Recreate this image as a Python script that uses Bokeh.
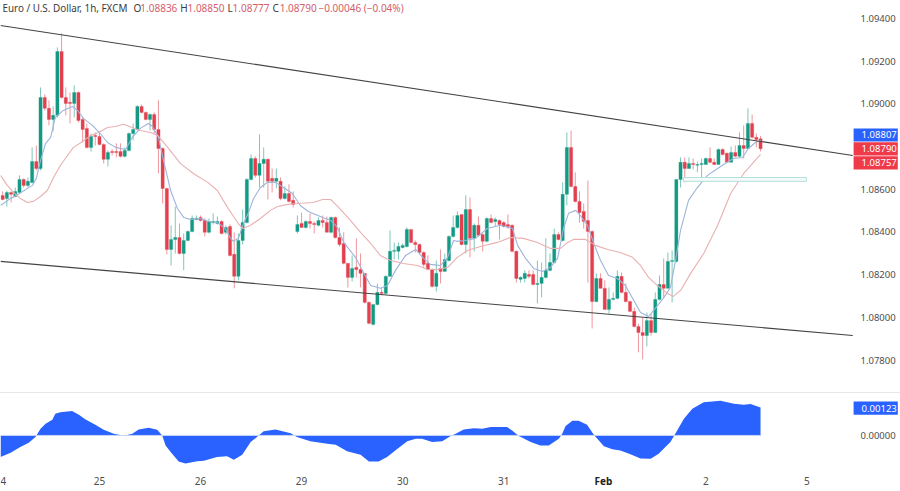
from bokeh.plotting import figure
from bokeh.models import (ColumnDataSource, Range1d, FixedTicker, PrintfTickFormatter, Label, Spacer, LinearAxis)
from bokeh.core.properties import value
from bokeh.layouts import column
from bokeh.embed import file_html
from bokeh.resources import INLINE

FONT = "Noto Sans"
first_bar = -23
opens = [
1.08571,1.08557,1.08585,1.08566,1.08585,1.08646,1.08618,1.08632,1.08730,1.08697,
1.09030,1.08979,1.08927,1.08946,1.09245,1.09030,1.09007,1.09002,1.09053,1.08927,
1.08885,1.08796,1.08852,
1.08847,1.08810,1.08740,1.08777,1.08777,1.08777,1.08754,1.08782,1.08861,1.08880,
1.08988,1.08960,1.08927,1.08950,1.08880,1.08791,1.08604,1.08318,1.08365,1.08374,
1.08299,1.08360,1.08402,1.08458,1.08468,1.08454,1.08398,1.08444,1.08440,1.08449,
1.08398,1.08426,1.08295,1.08192,1.08360,1.08444,1.08646,1.08744,1.08665,1.08721,
1.08740,1.08651,1.08637,1.08637,1.08557,1.08580,1.08548,
1.08402,1.08440,1.08421,1.08449,1.08440,1.08431,1.08454,1.08444,1.08398,1.08468,
1.08374,1.08346,1.08253,1.08187,1.08234,1.08224,1.08206,1.08070,1.07967,1.08060,
1.08117,1.08112,1.08192,1.08309,1.08309,1.08327,1.08332,1.08412,1.08351,1.08341,
1.08304,1.08253,1.08224,1.08145,1.08229,1.08215,1.08266,1.08379,1.08421,1.08482,
1.08341,1.08505,1.08370,1.08431,1.08388,1.08356,1.08463,1.08449,1.08454,1.08444,
1.08435,1.08431,1.08309,1.08178,1.08182,1.08201,1.08201,1.08154,1.08159,1.08187,
1.08220,1.08257,1.08388,1.08360,1.08576,1.08796,1.08613,1.08543,1.08496,1.08454,
1.08402,1.08074,1.08182,1.08136,1.08037,1.08084,1.08089,1.08192,1.08117,1.08074,
1.08028,1.07957,1.07929,1.07915,1.07985,1.07929,1.08084,1.08154,1.08136,1.08262,
1.08262,1.08646,1.08726,1.08697,1.08721,1.08712,1.08716,1.08716,1.08744,1.08726,
1.08716,1.08786,1.08768,1.08726,1.08772,1.08754,1.08805,1.08791,1.08908,1.08843,
1.08836]
closes = [
1.08552,1.08585,1.08576,1.08590,1.08646,1.08618,1.08637,1.08730,1.08697,1.09030,
1.08979,1.08927,1.08946,1.09245,1.09030,1.09002,1.09002,1.09053,1.08922,1.08880,
1.08796,1.08847,1.08847,
1.08810,1.08740,1.08772,1.08772,1.08772,1.08754,1.08782,1.08861,1.08880,1.08988,
1.08960,1.08927,1.08950,1.08880,1.08791,1.08604,1.08318,1.08365,1.08374,1.08299,
1.08360,1.08402,1.08463,1.08463,1.08454,1.08398,1.08449,1.08449,1.08449,1.08393,
1.08421,1.08290,1.08192,1.08360,1.08444,1.08646,1.08744,1.08665,1.08721,1.08740,
1.08637,1.08637,1.08651,1.08557,1.08580,1.08543,1.08529,
1.08435,1.08421,1.08449,1.08440,1.08435,1.08454,1.08444,1.08398,1.08468,1.08374,
1.08341,1.08253,1.08187,1.08229,1.08224,1.08206,1.08070,1.07972,1.08060,1.08117,
1.08112,1.08192,1.08309,1.08313,1.08332,1.08337,1.08412,1.08351,1.08341,1.08304,
1.08248,1.08224,1.08145,1.08206,1.08215,1.08271,1.08379,1.08421,1.08477,1.08341,
1.08505,1.08370,1.08431,1.08384,1.08356,1.08463,1.08444,1.08458,1.08435,1.08426,
1.08426,1.08309,1.08182,1.08187,1.08206,1.08192,1.08154,1.08159,1.08187,1.08220,
1.08257,1.08388,1.08365,1.08576,1.08796,1.08613,1.08543,1.08491,1.08449,1.08402,
1.08074,1.08182,1.08136,1.08037,1.08084,1.08089,1.08192,1.08117,1.08074,1.08028,
1.07957,1.07929,1.07915,1.07985,1.07929,1.08084,1.08154,1.08136,1.08262,1.08266,
1.08646,1.08726,1.08697,1.08721,1.08716,1.08716,1.08721,1.08744,1.08726,1.08716,
1.08786,1.08763,1.08726,1.08772,1.08754,1.08805,1.08791,1.08908,1.08843,1.08833,
1.08790]
highs = [
1.08590,1.08594,1.08590,1.08608,1.08665,1.08651,1.08655,1.08796,1.08805,1.09077,
1.09044,1.09016,1.08988,1.09264,1.09330,1.09077,1.09053,1.09086,1.09058,1.08936,
1.08908,1.08861,1.08866,
1.08871,1.08815,1.08782,1.08787,1.08815,1.08815,1.08796,1.08866,1.08908,1.08993,
1.08997,1.08964,1.08955,1.08960,1.09016,1.08796,1.08604,1.08431,1.08519,1.08440,
1.08393,1.08407,1.08477,1.08477,1.08477,1.08463,1.08463,1.08487,1.08472,1.08454,
1.08431,1.08435,1.08398,1.08393,1.08505,1.08651,1.08763,1.08754,1.08857,1.08796,
1.08744,1.08697,1.08697,1.08655,1.08613,1.08623,1.08590,
1.08477,1.08491,1.08454,1.08487,1.08449,1.08468,1.08477,1.08472,1.08472,1.08472,
1.08421,1.08398,1.08253,1.08290,1.08370,1.08299,1.08206,1.08074,1.08060,1.08158,
1.08136,1.08196,1.08407,1.08351,1.08351,1.08346,1.08421,1.08412,1.08360,1.08346,
1.08309,1.08290,1.08229,1.08266,1.08318,1.08299,1.08384,1.08477,1.08496,1.08482,
1.08571,1.08562,1.08440,1.08472,1.08393,1.08468,1.08482,1.08468,1.08458,1.08449,
1.08482,1.08435,1.08313,1.08192,1.08220,1.08220,1.08220,1.08266,1.08257,1.08370,
1.08299,1.08416,1.08398,1.08632,1.08866,1.08875,1.08679,1.08590,1.08533,1.08641,
1.08407,1.08206,1.08206,1.08173,1.08140,1.08117,1.08220,1.08210,1.08159,1.08079,
1.08046,1.07971,1.07999,1.08023,1.08018,1.08117,1.08196,1.08276,1.08304,1.08313,
1.08646,1.08749,1.08749,1.08749,1.08744,1.08730,1.08744,1.08749,1.08796,1.08744,
1.08791,1.08791,1.08772,1.08801,1.08805,1.08866,1.08899,1.08979,1.08950,1.08861,
1.08850]
lows = [
1.08548,1.08519,1.08538,1.08562,1.08580,1.08608,1.08608,1.08627,1.08688,1.08688,
1.08969,1.08899,1.08871,1.08936,1.09025,1.08946,1.08908,1.08936,1.08913,1.08819,
1.08791,1.08777,1.08805,
1.08805,1.08721,1.08707,1.08758,1.08749,1.08749,1.08749,1.08777,1.08829,1.08875,
1.08955,1.08922,1.08875,1.08861,1.08674,1.08533,1.08295,1.08243,1.08299,1.08295,
1.08220,1.08356,1.08398,1.08454,1.08449,1.08379,1.08393,1.08435,1.08435,1.08388,
1.08388,1.08285,1.08136,1.08173,1.08341,1.08440,1.08641,1.08655,1.08608,1.08608,
1.08552,1.08585,1.08604,1.08548,1.08552,1.08538,1.08515,
1.08393,1.08421,1.08416,1.08416,1.08393,1.08426,1.08421,1.08398,1.08393,1.08369,
1.08332,1.08248,1.08140,1.08168,1.08187,1.08140,1.08065,1.07967,1.07962,1.08056,
1.08103,1.08107,1.08192,1.08271,1.08271,1.08323,1.08327,1.08346,1.08304,1.08299,
1.08234,1.08220,1.08140,1.08121,1.08159,1.08215,1.08262,1.08374,1.08416,1.08337,
1.08299,1.08281,1.08309,1.08379,1.08309,1.08351,1.08440,1.08426,1.08365,1.08421,
1.08416,1.08304,1.08163,1.08163,1.08163,1.08182,1.08149,1.08065,1.08093,1.08182,
1.08215,1.08253,1.08360,1.08356,1.08524,1.08608,1.08538,1.08444,1.08416,1.08163,
1.07948,1.08070,1.08136,1.08037,1.08018,1.08079,1.08084,1.08112,1.08070,1.08023,
1.07953,1.07836,1.07803,1.07864,1.07915,1.07929,1.08079,1.08093,1.08136,1.08070,
1.08257,1.08608,1.08632,1.08697,1.08693,1.08679,1.08637,1.08716,1.08721,1.08712,
1.08716,1.08758,1.08726,1.08726,1.08749,1.08749,1.08744,1.08791,1.08838,1.08796,
1.08777]

blue_x = [-23.5,-21.1,-19.0,-17.1,-15.9,-15.0,-14.0,-12.8,-11.6,-10.5,-8.6,-6.4,-5.2,-3.8,-1.7,0.2,1.9,3.8,6.2,7.8,9.7,11.6,12.6,14.0,15.2,16.9,18.5,20.0,21.6,24.0,25.9,28.0,29.9,31.1,31.8,33.0,34.2,35.4,36.6,38.2,39.9,41.8,43.7,45.8,47.7,49.6,53.0,54.9,56.5,58.0,60.8,62.7,64.4,66.7,68.4,70.3,72.7,75.1,77.0,78.6,81.0,82.7,84.1,84.8,86.9,89.3,92.1,95.2,98.1,99.3,101.2,103.1,105.2,107.1,108.8,110.2,111.4,113.1,114.2,115.9,117.3,119.0,120.9,123.0,124.9,126.6,128.5,130.4,132.0,133.9,135.6,136.8,138.0,139.9,142.0,144.4,146.8,148.2,150.6,152.7,154.1,155.8,157.0]
blue_y = [1.08524,1.08557,1.08580,1.08604,1.08618,1.08651,1.08735,1.08815,1.08843,1.08936,1.08969,1.08988,1.08969,1.08932,1.08899,1.08861,1.08819,1.08796,1.08786,1.08843,1.08885,1.08908,1.08894,1.08843,1.08735,1.08594,1.08510,1.08468,1.08458,1.08463,1.08449,1.08444,1.08416,1.08370,1.08356,1.08370,1.08440,1.08491,1.08557,1.08608,1.08632,1.08632,1.08608,1.08580,1.08524,1.08496,1.08468,1.08454,1.08421,1.08351,1.08281,1.08210,1.08149,1.08136,1.08149,1.08220,1.08290,1.08318,1.08276,1.08248,1.08243,1.08281,1.08360,1.08356,1.08360,1.08370,1.08416,1.08431,1.08416,1.08337,1.08276,1.08229,1.08215,1.08234,1.08276,1.08416,1.08487,1.08501,1.08477,1.08431,1.08351,1.08266,1.08196,1.08182,1.08149,1.08089,1.08023,1.08004,1.08042,1.08089,1.08140,1.08266,1.08407,1.08548,1.08608,1.08665,1.08697,1.08716,1.08744,1.08749,1.08791,1.08819,1.08829]
pink_x = [-23.5,-21.9,-20.4,-18.8,-17.1,-15.7,-14.0,-12.4,-10.9,-9.3,-7.6,-6.2,-4.0,-2.1,-0.2,1.9,3.8,5.7,7.8,9.7,12.1,13.8,16.2,19.2,22.3,25.7,28.0,30.4,32.8,34.0,35.9,38.2,40.6,42.3,44.7,47.0,50.8,53.0,54.9,56.8,59.6,62.0,64.4,66.7,69.1,72.2,75.5,77.9,80.3,82.7,85.0,87.4,90.5,94.5,97.6,100.7,104.0,107.1,109.5,111.2,112.6,115.4,117.8,120.7,123.7,126.6,128.5,130.4,132.5,134.9,136.3,138.0,140.4,143.5,146.8,149.9,153.0,157.0]
pink_y = [1.08665,1.08618,1.08585,1.08557,1.08538,1.08543,1.08566,1.08594,1.08655,1.08711,1.08758,1.08796,1.08824,1.08852,1.08866,1.08889,1.08894,1.08904,1.08889,1.08875,1.08866,1.08852,1.08796,1.08721,1.08674,1.08632,1.08594,1.08515,1.08444,1.08416,1.08431,1.08463,1.08501,1.08519,1.08529,1.08533,1.08538,1.08552,1.08552,1.08515,1.08454,1.08398,1.08346,1.08290,1.08266,1.08252,1.08243,1.08224,1.08224,1.08234,1.08281,1.08313,1.08332,1.08351,1.08374,1.08370,1.08351,1.08323,1.08323,1.08351,1.08365,1.08365,1.08337,1.08318,1.08304,1.08281,1.08243,1.08187,1.08149,1.08112,1.08098,1.08126,1.08206,1.08299,1.08430,1.08580,1.08674,1.08763]

osc_x = [-23.5,-21.1,-18.8,-16.8,-15.2,-14.0,-12.8,-11.2,-10.5,-9.3,-6.5,-4.9,-3.3,-1.0,1.0,3.4,5.8,7.8,9.3,11.7,13.7,14.9,15.7,16.9,18.8,20.4,23.2,24.8,27.9,30.3,31.9,33.9,35.9,37.4,39.0,41.8,45.4,46.9,50.1,54.1,56.1,58.8,62.0,64.0,66.3,68.3,70.7,73.1,75.1,76.6,79.0,81.4,83.4,84.6,86.5,88.9,90.9,92.9,96.8,98.0,99.6,102.4,104.7,106.7,109.1,109.9,110.7,112.3,113.8,115.8,117.4,119.8,121.8,123.7,126.1,128.5,130.9,132.8,135.6,137.2,138.8,140.8,143.5,147.5,150.7,153.0,154.6,157.0]
osc_y = [-0.00095,-0.00076,-0.00051,-0.00032,-0.00007,0.00029,0.00051,0.00069,0.00095,0.00102,0.00107,0.00091,0.00070,0.00047,0.00025,0.00007,-0.00001,0.00007,0.00026,0.00034,0.00025,0.0,-0.00044,-0.00073,-0.00114,-0.00123,-0.00113,-0.00111,-0.00095,-0.00091,-0.00107,-0.00085,-0.00029,-0.00007,0.00018,0.00026,0.00010,-0.00007,-0.00025,-0.00037,-0.00041,-0.00069,-0.00085,-0.00114,-0.00114,-0.00095,-0.00059,-0.00026,-0.00015,-0.00015,-0.00029,-0.00026,-0.00003,0.00007,0.00026,0.00032,0.00029,0.00037,0.00037,0.00022,-0.00003,-0.00029,-0.00044,-0.00044,-0.00015,0.00007,0.00041,0.00064,0.00064,0.00047,0.00003,-0.00047,-0.00061,-0.00066,-0.00083,-0.00101,-0.00102,-0.00080,-0.00029,0.00022,0.00073,0.00117,0.00146,0.00152,0.00139,0.00135,0.00138,0.00123]

trend_x = [-23.5, 178.9]
upper_trend = [1.09367, 1.08758]
lower_trend = [1.08262, 1.07915]
zone_x = [138.7, 167.9]
zone_y = [1.08637, 1.08655]

price_ticks = [1.078, 1.080, 1.082, 1.084, 1.086, 1.090, 1.092, 1.094]
day_ticks = [0, 24, 48, 72, 96, 144, 168]
day_labels = ["25", "26", "29", "30", "31", "2", "5"]
title = "Euro / U.S. Dollar, 1h, FXCM"
ohlc_names = ["O", "H", "L", "C"]
ohlc_values = ["1.08836", "1.08850", "1.08777", "1.08790"]
change_text = "\u22120.00046 (\u22120.04%)"
tag_values = ["1.08807", "1.08790", "1.08757"]
tag_colors = ["#2962ff", "#ef3a4a", "#ef3a4a"]
tag_tops = [1.08885, 1.08820, 1.08754]
tag_bottoms = [1.08824, 1.08758, 1.08693]
tag_text_y = [1.08855, 1.08789, 1.08723]
osc_tag = "0.00123"

GREEN, RED = "#129a83", "#e2404f"
TEXT = "#4d4d4d"
assert len(opens) == len(closes) == len(highs) == len(lows), (len(opens), len(closes), len(highs), len(lows))
assert len(blue_x) == len(blue_y) and len(pink_x) == len(pink_y) and len(osc_x) == len(osc_y)

bar_x = list(range(first_bar, first_bar + len(opens)))
XR = (-23.51, 190.24)
AXIS_X = 178.84
TAG_L, TAG_R, TAG_TX = 179.1, 189.6, 181.0


def make_fig(height, yr):
    f = figure(width=900, height=height, x_range=Range1d(*XR), y_range=Range1d(*yr),
               output_backend="svg", toolbar_location=None, x_axis_location=None, y_axis_location="right",
               min_border_left=0, min_border_top=0, min_border_right=0, min_border_bottom=0)
    f.grid.visible = False
    f.outline_line_color = None
    ax = f.yaxis[0]
    ax.fixed_location = AXIS_X
    ax.axis_line_color = None
    ax.major_tick_line_color = None
    ax.minor_tick_line_color = None
    ax.major_tick_in = 0
    ax.major_tick_out = 0
    ax.minor_tick_in = 0
    ax.minor_tick_out = 0
    ax.major_label_standoff = 8
    ax.major_label_text_font = FONT
    ax.major_label_text_font_size = "9.5px"
    ax.major_label_text_color = TEXT
    ax.formatter = PrintfTickFormatter(format="%.5f")
    return f


p = make_fig(392, (1.07648, 1.09484))
p.yaxis[0].ticker = FixedTicker(ticks=price_ticks)

up = [c >= o for o, c in zip(opens, closes)]
for is_up, col in ((True, GREEN), (False, RED)):
    idx = [k for k, u in enumerate(up) if u == is_up]
    src = ColumnDataSource(dict(
        x=[bar_x[k] for k in idx], o=[opens[k] for k in idx], c=[closes[k] for k in idx],
        h=[highs[k] for k in idx], l=[lows[k] for k in idx]))
    p.segment("x", "h", "x", "l", source=src, line_color=col, line_alpha=0.55, line_width=1)
    p.vbar(x="x", top="o", bottom="c", width=0.76, source=src, fill_color=col, line_color=col, line_width=0.3)

p.line(blue_x, blue_y, line_color="#9db4dc", line_width=1.1)
p.line(pink_x, pink_y, line_color="#e9b0b2", line_width=1.1)
p.line(trend_x, upper_trend, line_color="#444444", line_width=1.1)
p.line(trend_x, lower_trend, line_color="#444444", line_width=1.1)
p.quad(left=zone_x[0], right=zone_x[1], bottom=zone_y[0], top=zone_y[1],
       fill_color="#f4fbfa", line_color="#b4e0da", line_width=1)


def label(fig, x, y, text, color=TEXT, size="10px", bold=False, align="left"):
    fig.add_layout(Label(x=x, y=y, text=text, text_color=color,
                         text_font=FONT, text_font_size=size,
                         text_font_style="bold" if bold else "normal", text_baseline="middle",
                         text_align=align))


def tags(fig, tops, bottoms, text_y, texts, colors):
    fig.quad(left=TAG_L, right=TAG_R, top=tops, bottom=bottoms, fill_color=colors, line_color=None)
    fig.text(x=[TAG_TX] * len(texts), y=text_y, text=texts, text_color="#ffffff", text_font=value(FONT),
             text_font_size="9.5px", text_baseline="middle", text_align="left")


ty = 1.09447
label(p, -23.05, ty, title, size="9.9px", color="#3c3c3c")
red_txt = "#d4606c"
for name, val, xn, xv in zip(ohlc_names, ohlc_values, [8.1, 19.2, 30.4, 41.1], [9.7, 20.9, 31.6, 42.8]):
    label(p, xn, ty, name, size="10px", color="#3c3c3c")
    label(p, xv, ty, val, size="10px", color=red_txt)
label(p, 52.0, ty, change_text, size="10px", color=red_txt)

tags(p, tag_tops, tag_bottoms, tag_text_y, tag_values, tag_colors)

sep = Spacer(width=900, height=1, styles={"background-color": "#e8e8e8"})

q = make_fig(98, (-0.00246, 0.00184))
q.yaxis[0].ticker = FixedTicker(ticks=[0.0])
q.varea(osc_x, y1=[0.0] * len(osc_x), y2=osc_y, fill_color="#2962ff")
q.line([osc_x[0], osc_x[-1]], [0.0, 0.0], line_color="#c6d4f7", line_width=1)
tags(q, [0.00149], [0.00091], [0.00120], [osc_tag], ["#2962ff"])

ax = LinearAxis(ticker=FixedTicker(ticks=day_ticks), fixed_location=-0.00154,
                major_label_overrides={t: s for t, s in zip(day_ticks, day_labels)})
ax.axis_line_color = None
ax.major_tick_line_color = None
ax.minor_tick_line_color = None
ax.major_tick_in = 0
ax.major_tick_out = 0
ax.minor_tick_in = 0
ax.minor_tick_out = 0
ax.major_label_standoff = 6
ax.major_label_text_font = FONT
ax.major_label_text_font_size = "10px"
ax.major_label_text_color = TEXT
q.add_layout(ax, "below")
label(q, 119.7, -0.00202, "Feb", color="#222222", size="10px", bold=True, align="center")
label(q, -23.5, -0.00202, "4", size="10px")

page = column(p, sep, q, spacing=0)
open("out.html", "w").write(file_html(page, INLINE))
